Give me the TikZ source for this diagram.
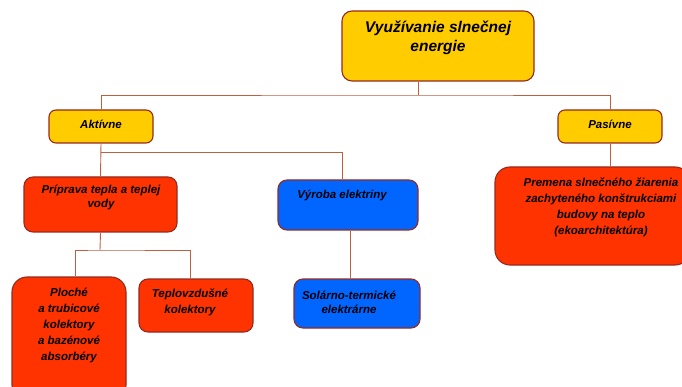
\documentclass[tikz,border=0pt]{standalone}
\usepackage{fontspec}
\setmainfont{Liberation Sans}
\definecolor{yel}{HTML}{FFCC00}
\definecolor{redb}{HTML}{FF3300}
\definecolor{blu}{HTML}{0066FF}
\definecolor{bord}{HTML}{962A1E}
\definecolor{conn}{HTML}{BD6040}
\begin{document}
\begin{tikzpicture}[x=1pt,y=-1pt,
  box/.style={draw=bord, line width=1.1pt, rounded corners=#1, inner sep=0pt},
  box/.default=7pt,
  txt/.style={font=\fontsize{11.5}{16}\selectfont\bfseries\itshape, align=center, inner sep=0pt, text=black},
  link/.style={draw=conn, line width=0.9pt}]
\useasboundingbox (0,0) rectangle (682,387);
\clip (0,0) rectangle (682,387);
% boxes
\node[box=10pt, fill=yel, minimum width=192pt, minimum height=70pt] (top) at (438,46) {};
\node[box, fill=yel, minimum width=104pt, minimum height=33pt] (akt) at (101,126.5) {};
\node[box, fill=yel, minimum width=104pt, minimum height=33pt] (pas) at (610,126.5) {};
\node[box=9pt, fill=redb, minimum width=153pt, minimum height=55pt] (prip) at (100.5,204.5) {};
\node[box=9pt, fill=blu, minimum width=140pt, minimum height=50pt] (vyr) at (348,205) {};
\node[box=15pt, fill=redb, minimum width=195pt, minimum height=98pt] (prem) at (592.5,216) {};
\node[box=15pt, fill=redb, minimum width=114pt, minimum height=123pt] (plo) at (69,338.5) {};
\node[box=9pt, fill=redb, minimum width=114pt, minimum height=53pt] (tep) at (196,305.5) {};
\node[box=9pt, fill=blu, minimum width=126pt, minimum height=49pt] (sol) at (357,303.5) {};
% texts
\node[txt, font=\fontsize{15.5}{19}\selectfont\bfseries\itshape] (ttop) at (438,38) {Využívanie slnečnej\\energie};
\node[txt] (takt) at (101,124) {Aktívne};
\node[txt] (tpas) at (610,124) {Pasívne};
\node[txt, font=\fontsize{11.5}{14}\selectfont\bfseries\itshape] (tprip) at (101,197) {Príprava tepla a teplej\\vody};
\node[txt] (tvyr) at (342,195) {Výroba elektriny};
\node[txt] (tprem) at (601,207) {Premena slnečného žiarenia\\zachyteného konštrukciami\\budovy na teplo\\(ekoarchitektúra)};
\node[txt] (tplo) at (69,325) {Ploché\\a trubicové\\kolektory\\a bazénové\\absorbéry};
\node[txt] (ttep) at (190,302) {Teplovzdušné\\kolektory};
\node[txt, font=\fontsize{11.5}{14}\selectfont\bfseries\itshape] (tsol) at (349,302) {Solárno-termické\\elektrárne};
% connectors
\coordinate (bus) at (418,95);
\coordinate (b2) at (101,152);
\coordinate (b3) at (100,250);
\draw[link] (top.south -| bus) -- (bus);
\draw[link] (akt.north) |- (bus) -| (pas.north);
\draw[link] (akt.south) -- (prip.north);
\draw[link] (b2) -| ([xshift=-6pt]vyr.north);
\draw[link] ([xshift=2pt]vyr.south) -- ([xshift=2pt]vyr.south |- sol.north);
\draw[link] (prip.south) -- (b3);
\draw[link] ([xshift=6pt]plo.north) |- (b3) -| ([xshift=-6pt]tep.north);
\draw[link] (pas.south) -- (pas.south |- prem.north);
\end{tikzpicture}
\end{document}
